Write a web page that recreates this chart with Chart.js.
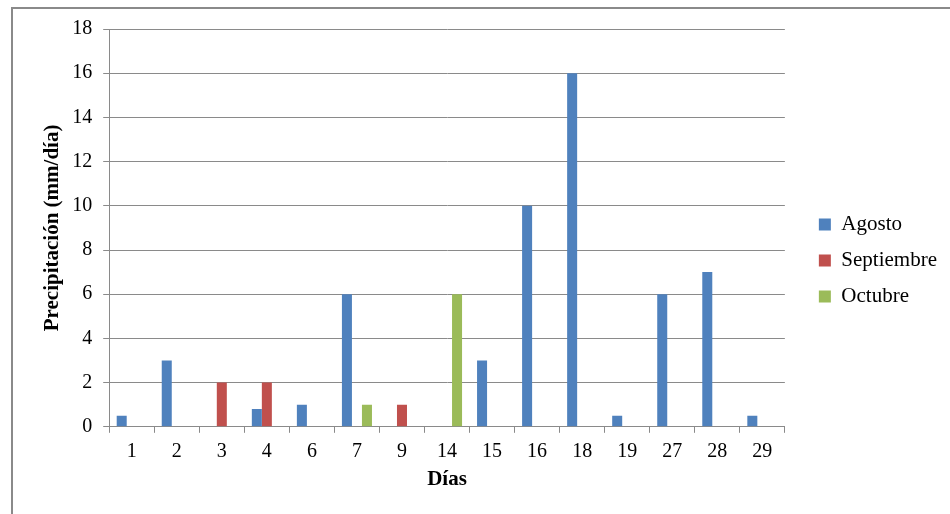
<!DOCTYPE html>
<html>
<head>
<meta charset="utf-8">
<script src="https://cdn.jsdelivr.net/npm/chart.js@4"></script>
<style>
  html, body { margin: 0; padding: 0; background: #fff; }
  #wrap { position: relative; width: 950px; height: 514px; overflow: hidden; }
  #frame { position: absolute; left: 11px; top: 7px; width: 960px; height: 530px;
           border-left: 2px solid #8a8a8a; border-top: 2px solid #8a8a8a; box-sizing: border-box; }
  #chart { position: absolute; left: 0; top: 0; }
</style>
</head>
<body>
<div id="wrap">
  <div id="frame"></div>
  <canvas id="chart" width="950" height="514"></canvas>
</div>
<script>
var dias = ["1", "2", "3", "4", "6", "7", "9", "14", "15", "16", "18", "19", "27", "28", "29"];
var agosto = [0.5, 3, 0, 0.8, 1, 6, 0, 0, 3, 10, 16, 0.5, 6, 7, 0.5];
var septiembre = [0, 0, 2, 2, 0, 0, 1, 0, 0, 0, 0, 0, 0, 0, 0];
var octubre = [0, 0, 0, 0, 0, 1, 0, 6, 0, 0, 0, 0, 0, 0, 0];
var yTicks = [0, 2, 4, 6, 8, 10, 12, 14, 16, 18];

var serif = "'Liberation Serif', 'Times New Roman', serif";
var gris = "#8a8a8a";

document.addEventListener("DOMContentLoaded", function () {
  var chart = document.getElementById("chart");
  var details = {
    type: "bar",
    data: {
      labels: dias,
      datasets: [
        { label: "Agosto", data: agosto, backgroundColor: "#4F81BD" },
        { label: "Septiembre", data: septiembre, backgroundColor: "#C0504D" },
        { label: "Octubre", data: octubre, backgroundColor: "#9BBB59" }
      ]
    },
    options: {
      responsive: false,
      animation: false,
      devicePixelRatio: 1,
      barPercentage: 1,
      categoryPercentage: 0.667,
      layout: { padding: { left: 40, right: 3, top: 29, bottom: 22 } },
      plugins: {
        tooltip: { enabled: false },
        legend: {
          position: "right",
          labels: {
            boxWidth: 12,
            boxHeight: 12,
            padding: 15,
            color: "#000",
            font: { family: serif, size: 21 }
          }
        }
      },
      scales: {
        x: {
          grid: { drawOnChartArea: false, drawTicks: true, tickLength: 6, color: gris },
          border: { color: gris },
          ticks: { color: "#000", padding: 7, font: { family: serif, size: 20 } },
          title: {
            display: true,
            text: "Días",
            color: "#000",
            padding: { top: -4, bottom: 0 },
            font: { family: serif, size: 21, weight: "bold" }
          }
        },
        y: {
          min: 0,
          max: 18,
          afterBuildTicks: function (s) { s.ticks = yTicks.map(function (v) { return { value: v }; }); },
          grid: { color: gris, tickLength: 6 },
          border: { color: gris },
          ticks: { color: "#000", padding: 11, font: { family: serif, size: 20 } },
          title: {
            display: true,
            text: "Precipitación (mm/día)",
            color: "#000",
            padding: { top: 0, bottom: -4 },
            font: { family: serif, size: 21, weight: "bold" }
          }
        },
        gap: {
          type: "linear",
          position: "right",
          display: true,
          grid: { display: false },
          border: { display: false },
          ticks: { display: false },
          afterFit: function (s) { s.width = 19; }
        }
      }
    }
  };
  var view = new Chart(chart, details);
});
</script>
</body>
</html>
